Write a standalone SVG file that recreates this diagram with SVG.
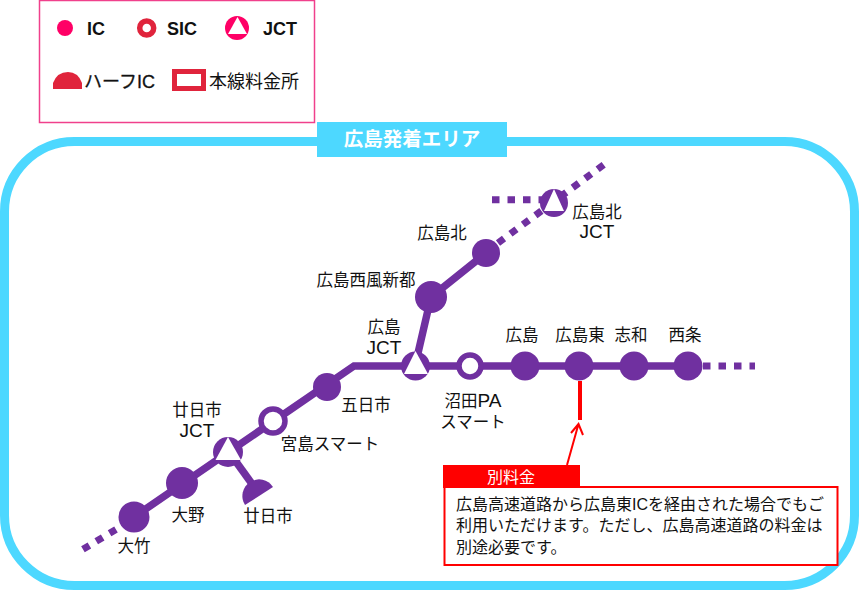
<svg xmlns="http://www.w3.org/2000/svg" width="859" height="590" viewBox="0 0 859 590">
<style>
text{font-family:"Liberation Sans","Noto Sans CJK JP",sans-serif;fill:#111;font-size:16.500px}
.m{text-anchor:middle}
.j{font-size:19px}
.l{fill:none;stroke:#7030a0;stroke-width:7.500}
.d{fill:none;stroke:#7030a0;stroke-width:7;stroke-dasharray:7.500 8}
.ic{fill:#7030a0}
.sic{fill:#fff;stroke:#7030a0;stroke-width:5.500}
.tri{fill:#fff}
.lg{font-weight:bold;font-size:18px}
</style>
<rect x="4.500" y="141.500" width="850" height="444" rx="70" fill="#fff" stroke="#4dd8ff" stroke-width="9"/>
<rect x="317" y="122" width="190" height="35" fill="#4dd8ff"/>
<text x="412" y="146" class="m" style="fill:#fff;font-weight:bold;font-size:19.500px">広島発着エリア</text>
<g id="legend">
<rect x="39.500" y="0.500" width="275" height="122" fill="#fff" stroke="#f0408c" stroke-width="1.500"/>
<circle cx="65" cy="28" r="8" fill="#ff0066"/><text x="87" y="35" class="lg">IC</text>
<circle cx="146.700" cy="28" r="7" fill="#fff" stroke="#e0243c" stroke-width="5.500"/><text x="167" y="35" class="lg">SIC</text>
<circle cx="237" cy="28" r="12" fill="#ff0066"/><path d="M237.500 17L228 34H247Z" fill="#fff"/><text x="263" y="35" class="lg">JCT</text>
<path d="M53 89V83Q57 72 68 72Q78 72 82 83V89Z" fill="#e0243c"/><text x="84" y="88" style="font-size:18px;stroke:#111;stroke-width:.3">ハーフIC</text>
<rect x="174.500" y="71.500" width="29" height="17" fill="#fff" stroke="#e0243c" stroke-width="5"/><text x="209" y="88" style="font-size:18px">本線料金所</text>
</g>
<g id="connectors">
<path class="l" d="M134 517L354 366H688"/>
<path class="l" d="M415 366L431 297L486 253"/>
<path class="l" d="M229 452L255 488"/>
<path class="d" d="M498 243L606 163"/>
<path class="d" d="M492 199.700H545"/>
<path class="d" d="M703 366H755"/>
<path class="d" d="M116 529.500L80 551"/>
<path d="M580 381V420" fill="none" stroke="#f00" stroke-width="4"/>
<path d="M567 465L578.500 424M571 433L578.500 424L583 435" fill="none" stroke="#f00" stroke-width="2"/>
</g>
<g id="n-otake"><circle class="ic" cx="134" cy="517" r="15.500"/><text x="134" y="552" class="m">大竹</text></g>
<g id="n-ono"><circle class="ic" cx="182" cy="483" r="16"/><text x="188" y="521" class="m">大野</text></g>
<g id="n-hatsukaichi-jct"><circle class="ic" cx="228" cy="452" r="15"/><path class="tri" d="M228 437L215.500 460H241Z"/><text x="197" y="416" class="m">廿日市</text><text x="197" y="437" class="m j">JCT</text></g>
<g id="n-hatsukaichi"><path class="ic" d="M273 487A16.600 16.600 0 0 0 245 505Z"/><text x="268" y="522" class="m">廿日市</text></g>
<g id="n-miyajima"><circle class="sic" cx="273" cy="421" r="12"/><text x="330" y="450" class="m">宮島スマート</text></g>
<g id="n-itsukaichi"><circle class="ic" cx="327" cy="387" r="14"/><text x="366" y="411" class="m">五日市</text></g>
<g id="n-hiroshima-jct"><circle class="ic" cx="415.500" cy="366" r="14.500"/><path class="tri" d="M415.500 351L404 374H428Z"/><text x="384" y="333" class="m">広島</text><text x="384" y="354" class="m j">JCT</text></g>
<g id="n-numata"><circle class="sic" cx="470" cy="366" r="11"/><text x="473" y="407" class="m">沼田<tspan class="j">PA</tspan></text><text x="473" y="428" class="m">スマート</text></g>
<g id="n-hiroshima"><circle class="ic" cx="525" cy="366" r="14.500"/><text x="522" y="341" class="m">広島</text></g>
<g id="n-hiroshima-higashi"><circle class="ic" cx="579" cy="366" r="14.500"/><text x="580" y="341" class="m">広島東</text></g>
<g id="n-shiwa"><circle class="ic" cx="634" cy="366" r="14.500"/><text x="631" y="341" class="m">志和</text></g>
<g id="n-saijo"><circle class="ic" cx="688" cy="366" r="14.500"/><text x="685" y="341" class="m">西条</text></g>
<g id="n-nishifuhshinto"><circle class="ic" cx="431" cy="297" r="16"/><text x="366" y="286" class="m">広島西風新都</text></g>
<g id="n-hiroshima-kita"><circle class="ic" cx="486" cy="253" r="14"/><text x="442" y="239" class="m">広島北</text></g>
<g id="n-hiroshima-kita-jct"><circle class="ic" cx="554" cy="203" r="14"/><path class="tri" d="M554 189L544 211H564Z"/><text x="597" y="218" class="m">広島北</text><text x="597" y="238" class="m j">JCT</text></g>
<g id="note">
<rect x="443" y="465" width="137" height="23" fill="#f00"/>
<text x="511" y="483" class="m" style="fill:#fff;font-size:16px">別料金</text>
<rect x="444.500" y="487" width="393" height="78" fill="#fff" stroke="#f00" stroke-width="2"/>
<text x="456" y="510" style="font-size:16px">広島高速道路から広島東ICを経由された場合でもご</text>
<text x="456" y="531" style="font-size:16px">利用いただけます。ただし、広島高速道路の料金は</text>
<text x="456" y="553" style="font-size:16px">別途必要です。</text>
</g>
</svg>
